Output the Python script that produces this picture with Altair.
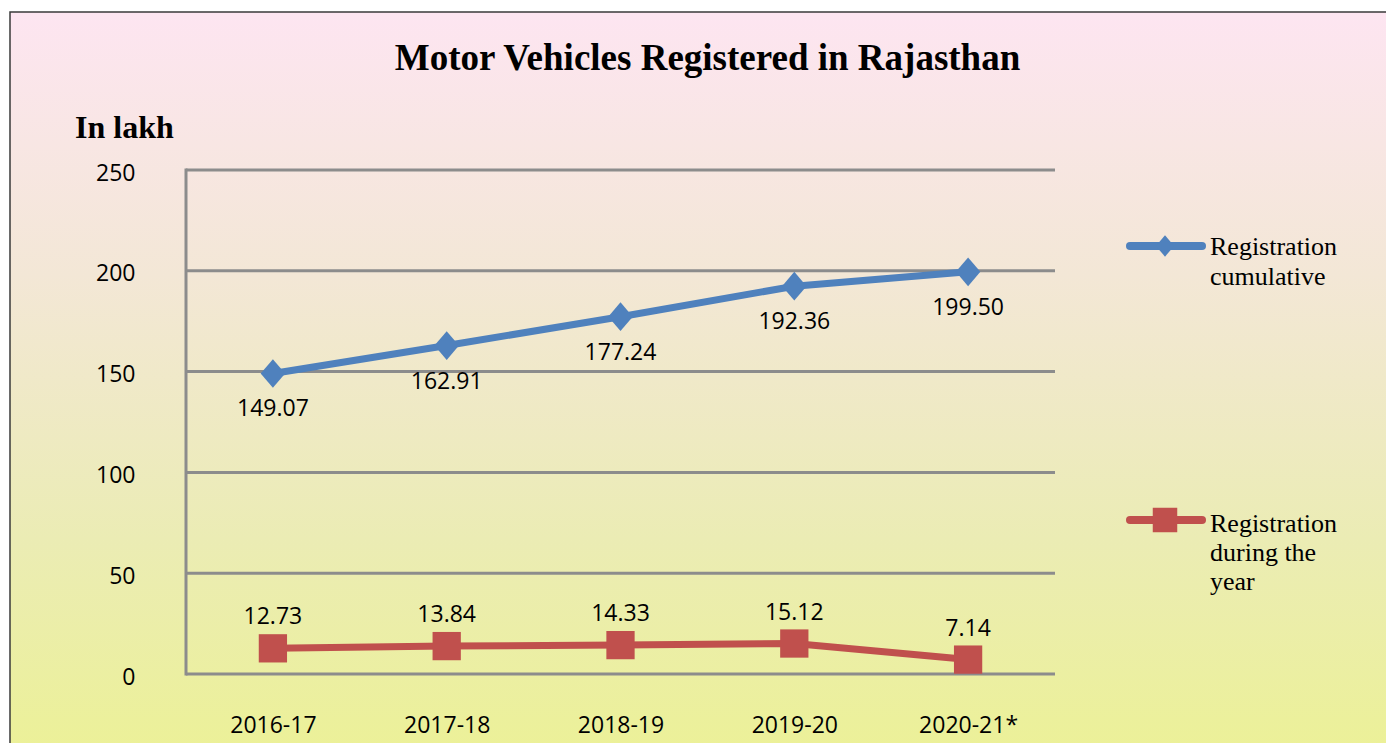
import altair as alt
import pandas as pd

# ---- data ----
years = ["2016-17", "2017-18", "2018-19", "2019-20", "2020-21*"]
cumulative = [149.07, 162.91, 177.24, 192.36, 199.50]
during_year = [12.73, 13.84, 14.33, 15.12, 7.14]
series_names = ["Registration cumulative", "Registration during the year"]
legend_cum = ["Registration", "cumulative"]
legend_dur = ["Registration", "during the", "year"]
y_ticks = [0, 50, 100, 150, 200, 250]
title_text = "Motor Vehicles Registered in Rajasthan"
unit_text = "In lakh"

BLUE = "#4F81BD"
RED = "#C0504D"
GRID = "#8c8c8c"
W, H = 869, 504
PAD = {"left": 178, "top": 162, "right": 331, "bottom": 69}

rows = []
for yr, c, d in zip(years, cumulative, during_year):
    rows.append({"year": yr, "series": series_names[0], "value": c})
    rows.append({"year": yr, "series": series_names[1], "value": d})
df = pd.DataFrame(rows)
grid_df = pd.DataFrame({"value": y_ticks})
one = pd.DataFrame({"k": [0]})

yscale = alt.Scale(domain=[0, 250], nice=False, zero=True)
xscale = alt.Scale(type="point", padding=0.5, domain=years)

NUMFONT = "Open Sans"
SERIF = "Liberation Serif"

y_axis = alt.Axis(title=None, values=y_ticks, ticks=False, tickSize=0, domain=False,
                  grid=False, labelFont=NUMFONT, labelFontSize=23,
                  labelColor="black", labelPadding=51, labelOffset=3, zindex=1)
x_enc = alt.X("year:N", scale=xscale, sort=years,
              axis=alt.Axis(title=None, labelAngle=0, ticks=False, tickSize=0, domain=False,
                            grid=False, labelFont=NUMFONT, labelFontSize=23,
                            labelColor="black", labelPadding=40, zindex=1))
y_enc = alt.Y("value:Q", scale=yscale, axis=y_axis)

# background panel with gradient
bg = alt.Chart(one).mark_rect(
    fill=alt.LinearGradient(
        gradient="linear", x1=0, y1=0, x2=0, y2=1,
        stops=[alt.GradientStop(color="#fde5f1", offset=0),
               alt.GradientStop(color="#f3e7d6", offset=0.35),
               alt.GradientStop(color="#ebecb4", offset=0.7),
               alt.GradientStop(color="#ecf196", offset=1)]),
    stroke="#3a3a3a", strokeWidth=1.5
).encode(x=alt.value(-176), x2=alt.value(W + 380), y=alt.value(-158), y2=alt.value(H + 90))

grid = alt.Chart(grid_df).mark_rule(color=GRID, strokeWidth=3).encode(
    y=y_enc, x=alt.value(0), x2=alt.value(W))
left_line = alt.Chart(one).mark_rule(color=GRID, strokeWidth=3, strokeCap="square").encode(
    x=alt.value(0), y=alt.value(0), y2=alt.value(H))

cum = alt.Chart(df).transform_filter(alt.datum.series == series_names[0])
dur = alt.Chart(df).transform_filter(alt.datum.series == series_names[1])

cum_line = cum.mark_line(color=BLUE, strokeWidth=7).encode(x=x_enc, y=y_enc)
dur_line = dur.mark_line(color=RED, strokeWidth=7).encode(x=x_enc, y=y_enc)
DIAMOND = "M-1,0L0,-1.17L1,0L0,1.17Z"
cum_pts = cum.mark_point(filled=True, opacity=1, color=BLUE, shape=DIAMOND, size=600).encode(x=x_enc, y=y_enc)
dur_pts = dur.mark_point(filled=True, opacity=1, color=RED, shape="square", size=800).encode(x=x_enc, y=y_enc)

cum_lab = cum.mark_text(font=NUMFONT, fontSize=23, color="black", baseline="middle", dy=36).encode(
    x=x_enc, y=y_enc, text=alt.Text("value:Q", format=".2f"))
dur_lab = dur.mark_text(font=NUMFONT, fontSize=23, color="black", baseline="middle", dy=-31).encode(
    x=x_enc, y=y_enc, text=alt.Text("value:Q", format=".2f"))

title = alt.Chart(one).mark_text(text=title_text, font=SERIF, fontWeight="bold", fontSize=37,
                                 align="center", baseline="alphabetic", color="black").encode(
    x=alt.value(521.5), y=alt.value(-100))
unit = alt.Chart(one).mark_text(text=unit_text, font=SERIF, fontWeight="bold", fontSize=32,
                                align="left", baseline="alphabetic", color="black").encode(
    x=alt.value(-111), y=alt.value(-32))

# legend (drawn manually)
leg_cum_line = alt.Chart(one).mark_rule(color=BLUE, strokeWidth=8, strokeCap="round").encode(
    x=alt.value(944), x2=alt.value(1016), y=alt.value(76))
leg_cum_sym = alt.Chart(one).mark_point(filled=True, opacity=1, color=BLUE, shape=DIAMOND, size=330).encode(
    x=alt.value(979), y=alt.value(76))
leg_cum_txt = alt.Chart(one).mark_text(text=legend_cum, font=SERIF, fontSize=26, lineHeight=30,
                                       align="left", baseline="alphabetic", color="black").encode(
    x=alt.value(1024), y=alt.value(85))
leg_dur_line = alt.Chart(one).mark_rule(color=RED, strokeWidth=8, strokeCap="round").encode(
    x=alt.value(944), x2=alt.value(1016), y=alt.value(350))
leg_dur_sym = alt.Chart(one).mark_point(filled=True, opacity=1, color=RED, shape="square", size=600).encode(
    x=alt.value(979), y=alt.value(350))
leg_dur_txt = alt.Chart(one).mark_text(text=legend_dur, font=SERIF, fontSize=26, lineHeight=29,
                                       align="left", baseline="alphabetic", color="black").encode(
    x=alt.value(1024), y=alt.value(362))

chart = alt.layer(
    bg, grid, left_line, cum_line, dur_line, cum_pts, dur_pts, cum_lab, dur_lab,
    title, unit, leg_cum_line, leg_cum_sym, leg_cum_txt, leg_dur_line, leg_dur_sym, leg_dur_txt
).properties(
    width=W, height=H,
    autosize=alt.AutoSizeParams(type="none"),
    padding=PAD,
    background="white",
).configure_view(stroke=None)

chart.save("out.html", embed_options={"renderer": "svg", "actions": False})
